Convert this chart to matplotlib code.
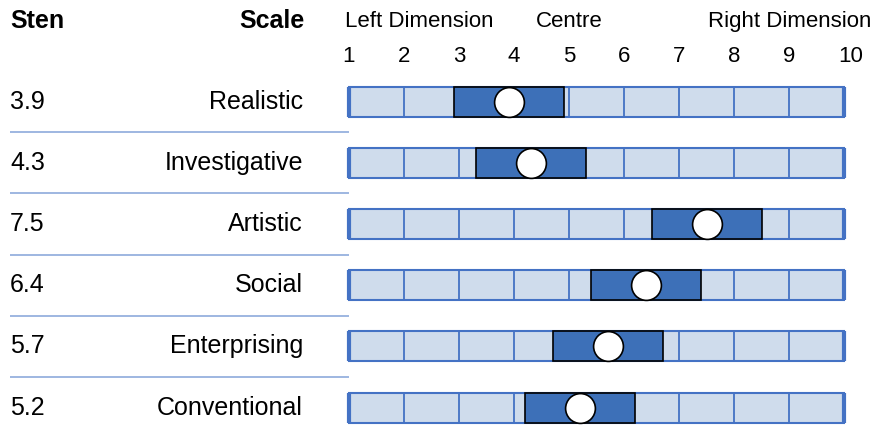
import matplotlib.pyplot as plt
from matplotlib.patches import Rectangle

plt.rcParams["font.family"] = ["Liberation Sans", "DejaVu Sans"]

scales = ["Realistic", "Investigative", "Artistic", "Social", "Enterprising", "Conventional"]
stens = [3.9, 4.3, 7.5, 6.4, 5.7, 5.2]
ticks = [1, 2, 3, 4, 5, 6, 7, 8, 9, 10]

LIGHT = "#cfdcec"
EDGE = "#4472c4"
DARK = "#3d70b8"
SEP = "#8eaadb"

# pixel layout: sten 1 -> 349 px, 55 px per unit; row 0 at 101.5 px, 61.2 px per row
W, H = 875, 432
PX = 55.0
X0 = 1 - 349 / PX
ROW = 61.2
Y0 = -101.5 / ROW


def xpx(p):
    return X0 + p / PX


fig = plt.figure(figsize=(W / 100, H / 100), dpi=100)
ax = fig.add_axes([0, 0, 1, 1])
ax.set_xlim(X0, X0 + W / PX)
ax.set_ylim(Y0 + H / ROW, Y0)
ax.axis("off")

bh = 30 / ROW
for i, (name, s) in enumerate(zip(scales, stens)):
    ax.add_patch(Rectangle((ticks[0], i - bh / 2), ticks[-1] - ticks[0], bh,
                           facecolor=LIGHT, edgecolor=EDGE, lw=1.5, zorder=1))
    ax.vlines(ticks[1:-1], i - bh / 2, i + bh / 2, color=EDGE, lw=1.3, zorder=2)
    ax.vlines([ticks[0], ticks[-1]], i - bh / 2, i + bh / 2, color=EDGE, lw=3, zorder=2)
    ax.add_patch(Rectangle((s - 1, i - bh / 2), 2, bh,
                           facecolor=DARK, edgecolor="black", lw=1.2, zorder=3))
    ax.scatter([s], [i], s=460, facecolor="white", edgecolor="black", lw=1.2, zorder=4)

    ax.text(xpx(10), i, f"{s:.1f}", fontsize=18, ha="left", va="center")
    ax.text(xpx(303), i, name, fontsize=18, ha="right", va="center")

ax.hlines([i + 0.5 for i in range(len(scales) - 1)], xpx(10), ticks[0],
          color=SEP, lw=1.2)

# header
yh = Y0 + 21 / ROW
ax.text(xpx(10), yh, "Sten", fontsize=18, fontweight="bold", ha="left", va="center")
ax.text(xpx(305), yh, "Scale", fontsize=18, fontweight="bold", ha="right", va="center")
ax.text(xpx(345), yh, "Left Dimension", fontsize=16, ha="left", va="center")
ax.text(xpx(569), yh, "Centre", fontsize=16, ha="center", va="center")
ax.text(xpx(871), yh, "Right Dimension", fontsize=16, ha="right", va="center")

yt = Y0 + 56 / ROW
for t in ticks:
    xt = t + (0.12 if t == 10 else 0)
    ax.text(xt, yt, str(t), fontsize=16, ha="center", va="center")

fig.savefig("out.png", dpi=100)
